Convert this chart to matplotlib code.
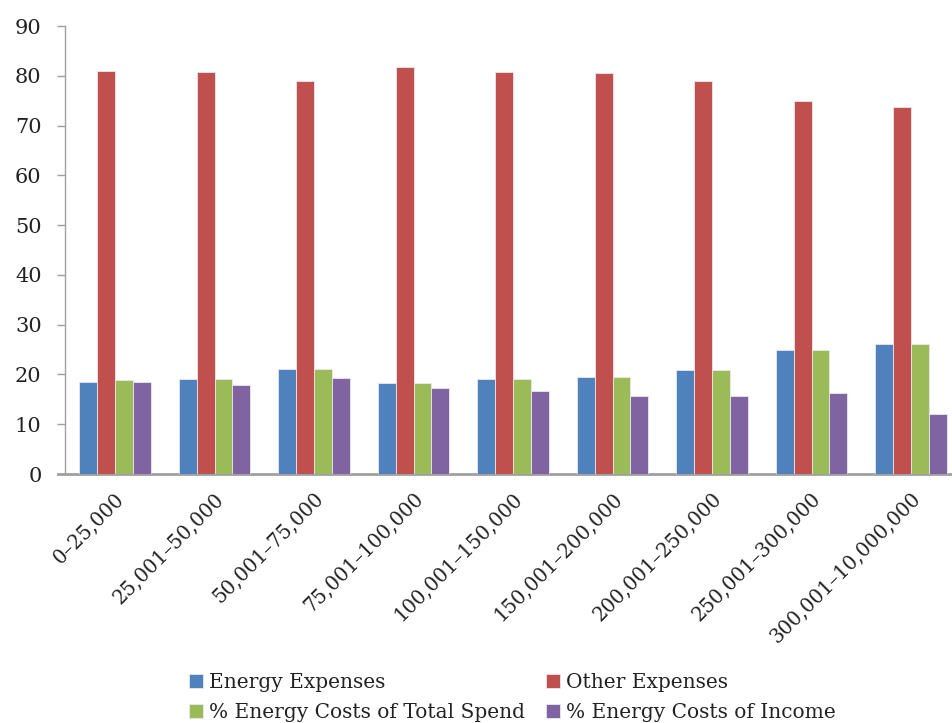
import matplotlib

matplotlib.use("Agg")
import matplotlib.pyplot as plt
import numpy as np

categories = [
    "0–25,000", "25,001–50,000", "50,001–75,000", "75,001–100,000",
    "100,001–150,000", "150,001–200,000", "200,001–250,000",
    "250,001–300,000", "300,001–10,000,000",
]
energy_expenses = [18.4, 19.1, 21.0, 18.2, 19.1, 19.4, 20.8, 25.0, 26.2]
other_expenses = [81.0, 80.8, 78.9, 81.7, 80.8, 80.5, 79.0, 75.0, 73.7]
pct_total_spend = [18.9, 19.1, 21.0, 18.2, 19.1, 19.4, 20.8, 25.0, 26.2]
pct_income = [18.4, 17.8, 19.3, 17.3, 16.7, 15.7, 15.6, 16.2, 12.1]

series = [
    ("Energy Expenses", energy_expenses, "#4F81BD"),
    ("Other Expenses", other_expenses, "#C0504D"),
    ("% Energy Costs of Total Spend", pct_total_spend, "#9BBB59"),
    ("% Energy Costs of Income", pct_income, "#8064A2"),
]

plt.rcParams["font.family"] = ["DejaVu Serif"]

fig = plt.figure(figsize=(9.52, 7.23), dpi=100)
ax = fig.add_axes([65.25 / 952, 1 - 474 / 723, 895.5 / 952, 448 / 723])

x = np.arange(len(categories))
width = 0.18
offsets = [-1.5, -0.5, 0.5, 1.5]
handles = []
for (name, vals, color), off in zip(series, offsets):
    b = ax.bar(x + off * width, vals, width, color=color, label=name,
               edgecolor="#e8e8f0", linewidth=0.6)
    handles.append(b)

ax.set_xlim(-0.5, len(categories) - 0.5)
ax.set_ylim(0, 90)
ax.set_yticks(range(0, 91, 10))
ax.set_xticks(x)
ax.set_xticklabels(categories, rotation=45, ha="right", rotation_mode="anchor")
ax.tick_params(axis="x", length=0, pad=11, labelsize=14.2, colors="#222222")
ax.tick_params(axis="y", length=6, width=1, color="#a0a0a0", pad=11,
               labelsize=15, labelcolor="#222222")

for s in ("top", "right"):
    ax.spines[s].set_visible(False)
ax.spines["left"].set_color("#a0a0a0")
ax.spines["left"].set_linewidth(1)
ax.spines["bottom"].set_color("#a0a0a0")
ax.spines["bottom"].set_linewidth(2)
ax.spines["bottom"].set_bounds(-0.57, len(categories) - 0.5)
ax.spines["bottom"].set_zorder(0)

order = [0, 2, 1, 3]
leg = fig.legend([handles[i] for i in order],
                 [series[i][0] for i in order],
                 ncol=2, loc="upper left", bbox_to_anchor=(189 / 952, 1 - 673 / 723),
                 frameon=False, fontsize=14.5, handlelength=0.7, handleheight=0.7,
                 handletextpad=0.3, columnspacing=1.05, labelspacing=0.55,
                 borderpad=0, borderaxespad=0)
for t in leg.get_texts():
    t.set_color("#222222")

fig.savefig("out.png", dpi=100)
